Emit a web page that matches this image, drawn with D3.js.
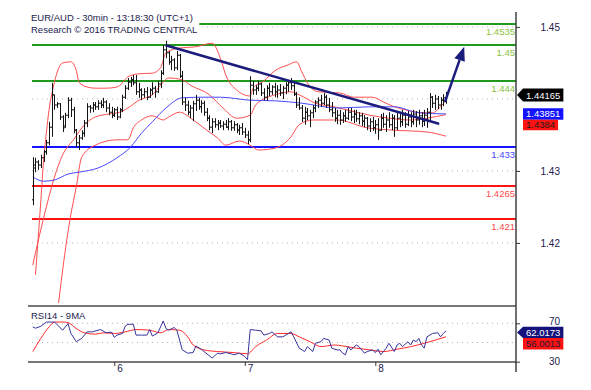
<!DOCTYPE html>
<html>
<head>
<meta charset="utf-8">
<script src="https://cdn.jsdelivr.net/npm/d3@7"></script>
<style>
body { margin: 0; background: #fff; }
svg { display: block; font-family: "Liberation Sans", Arial, sans-serif; }
</style>
</head>
<body>
<script>
// EUR/AUD 30min bars, index 0 = first bar on screen (day 6 opens at bar 30)
var opens = [1.4242,1.4295,1.4305,1.4300,1.4312,1.4322,1.4337,1.4363,1.4417,1.4400,
    1.4402,1.4380,1.4365,1.4383,1.4408,1.4392,1.4358,1.4337,1.4345,1.4353,
    1.4370,1.4397,1.4395,1.4400,1.4397,1.4403,1.4400,1.4405,1.4395,1.4388,
    1.4383,1.4392,1.4380,1.4392,1.4413,1.4428,1.4438,1.4442,1.4437,1.4422,
    1.4425,1.4417,1.4422,1.4413,1.4425,1.4428,1.4422,1.4435,1.4453,1.4492,
    1.4487,1.4472,1.4475,1.4462,1.4483,1.4448,1.4405,1.4400,1.4388,1.4395,
    1.4402,1.4408,1.4397,1.4403,1.4388,1.4378,1.4363,1.4372,1.4367,1.4370,
    1.4365,1.4368,1.4363,1.4372,1.4362,1.4367,1.4358,1.4362,1.4355,1.4350,
    1.4342,1.4433,1.4425,1.4428,1.4435,1.4420,1.4413,1.4428,1.4422,1.4430,
    1.4422,1.4425,1.4420,1.4428,1.4433,1.4437,1.4432,1.4418,1.4400,1.4395,
    1.4378,1.4388,1.4382,1.4387,1.4395,1.4405,1.4408,1.4403,1.4413,1.4400,
    1.4392,1.4387,1.4378,1.4383,1.4375,1.4382,1.4378,1.4388,1.4380,1.4385,
    1.4377,1.4382,1.4373,1.4378,1.4365,1.4372,1.4362,1.4367,1.4358,1.4378,
    1.4368,1.4375,1.4367,1.4378,1.4362,1.4378,1.4372,1.4383,1.4368,1.4380,
    1.4372,1.4385,1.4375,1.4382,1.4373,1.4383,1.4388,1.4413,1.4403,1.4410,
    1.4400,1.4408,1.4412];
var highs = [1.4313,1.4312,1.4308,1.4317,1.4325,1.4342,1.4372,1.4437,1.4417,1.4405,
    1.4403,1.4383,1.4387,1.4413,1.4412,1.4397,1.4360,1.4350,1.4358,1.4375,
    1.4403,1.4400,1.4405,1.4405,1.4408,1.4408,1.4412,1.4408,1.4403,1.4397,
    1.4395,1.4397,1.4395,1.4417,1.4433,1.4445,1.4447,1.4450,1.4450,1.4437,
    1.4428,1.4428,1.4430,1.4428,1.4438,1.4432,1.4440,1.4458,1.4500,1.4507,
    1.4490,1.4482,1.4478,1.4490,1.4485,1.4457,1.4412,1.4407,1.4400,1.4407,
    1.4417,1.4412,1.4408,1.4407,1.4395,1.4383,1.4378,1.4378,1.4375,1.4375,
    1.4373,1.4375,1.4378,1.4375,1.4373,1.4370,1.4367,1.4370,1.4362,1.4357,
    1.4448,1.4440,1.4433,1.4440,1.4437,1.4428,1.4433,1.4437,1.4433,1.4437,
    1.4433,1.4435,1.4432,1.4438,1.4442,1.4445,1.4438,1.4422,1.4413,1.4400,
    1.4397,1.4395,1.4392,1.4400,1.4408,1.4413,1.4417,1.4420,1.4417,1.4412,
    1.4405,1.4395,1.4392,1.4392,1.4388,1.4392,1.4395,1.4395,1.4392,1.4392,
    1.4388,1.4387,1.4383,1.4380,1.4378,1.4380,1.4375,1.4378,1.4385,1.4387,
    1.4383,1.4388,1.4385,1.4383,1.4387,1.4388,1.4392,1.4388,1.4390,1.4388,
    1.4392,1.4390,1.4392,1.4388,1.4392,1.4395,1.4420,1.4415,1.4417,1.4415,
    1.4413,1.4418,1.4422];
var lows = [1.4233,1.4288,1.4292,1.4295,1.4305,1.4317,1.4333,1.4347,1.4392,1.4395,
    1.4375,1.4355,1.4362,1.4378,1.4380,1.4353,1.4330,1.4325,1.4342,1.4347,
    1.4363,1.4387,1.4388,1.4392,1.4392,1.4395,1.4395,1.4388,1.4383,1.4378,
    1.4380,1.4375,1.4378,1.4388,1.4410,1.4425,1.4430,1.4433,1.4417,1.4412,
    1.4408,1.4412,1.4408,1.4412,1.4417,1.4412,1.4420,1.4428,1.4450,1.4478,
    1.4467,1.4458,1.4457,1.4458,1.4445,1.4400,1.4390,1.4383,1.4378,1.4373,
    1.4390,1.4392,1.4387,1.4382,1.4373,1.4358,1.4353,1.4362,1.4358,1.4362,
    1.4358,1.4362,1.4358,1.4357,1.4357,1.4353,1.4350,1.4350,1.4345,1.4335,
    1.4338,1.4417,1.4417,1.4423,1.4415,1.4408,1.4407,1.4415,1.4417,1.4413,
    1.4412,1.4415,1.4410,1.4418,1.4422,1.4425,1.4415,1.4395,1.4392,1.4372,
    1.4367,1.4375,1.4363,1.4378,1.4388,1.4395,1.4397,1.4400,1.4395,1.4388,
    1.4380,1.4372,1.4368,1.4367,1.4370,1.4372,1.4375,1.4373,1.4370,1.4372,
    1.4368,1.4365,1.4363,1.4358,1.4355,1.4357,1.4352,1.4342,1.4357,1.4362,
    1.4355,1.4362,1.4358,1.4347,1.4358,1.4363,1.4365,1.4362,1.4365,1.4363,
    1.4367,1.4363,1.4367,1.4363,1.4365,1.4362,1.4375,1.4395,1.4392,1.4393,
    1.4392,1.4398,1.4402];
var closes = [1.4300,1.4305,1.4300,1.4312,1.4322,1.4337,1.4363,1.4417,1.4400,1.4402,
    1.4380,1.4362,1.4383,1.4408,1.4392,1.4358,1.4337,1.4345,1.4353,1.4370,
    1.4397,1.4395,1.4400,1.4397,1.4403,1.4400,1.4405,1.4395,1.4388,1.4383,
    1.4392,1.4380,1.4392,1.4413,1.4428,1.4438,1.4442,1.4437,1.4422,1.4425,
    1.4417,1.4422,1.4413,1.4425,1.4428,1.4422,1.4435,1.4453,1.4492,1.4487,
    1.4472,1.4475,1.4462,1.4483,1.4448,1.4405,1.4400,1.4388,1.4395,1.4402,
    1.4408,1.4397,1.4403,1.4388,1.4378,1.4363,1.4372,1.4367,1.4370,1.4365,
    1.4368,1.4363,1.4372,1.4362,1.4367,1.4358,1.4362,1.4355,1.4350,1.4342,
    1.4433,1.4425,1.4428,1.4435,1.4420,1.4413,1.4428,1.4422,1.4430,1.4422,
    1.4425,1.4420,1.4428,1.4433,1.4437,1.4432,1.4418,1.4400,1.4395,1.4378,
    1.4388,1.4382,1.4387,1.4395,1.4405,1.4408,1.4403,1.4413,1.4400,1.4392,
    1.4387,1.4378,1.4383,1.4375,1.4382,1.4378,1.4388,1.4380,1.4385,1.4377,
    1.4382,1.4373,1.4378,1.4365,1.4372,1.4362,1.4367,1.4358,1.4378,1.4368,
    1.4375,1.4367,1.4378,1.4362,1.4378,1.4372,1.4383,1.4368,1.4380,1.4372,
    1.4385,1.4375,1.4382,1.4373,1.4383,1.4388,1.4413,1.4403,1.4410,1.4400,
    1.4408,1.4412,1.4417];

// bollinger bands (at these bars)
var upperIdx = [1,2,3,4,5,6,7,8,9,11,14,16,17,20,23,27,31,33,35,39,44,47,49,54,60,66,69,71,75,80,81,85,89,94,97,99,101,105,113,118,125,129,133,137,144,147,150,152];
var upperVal = [1.4117,1.4178,1.4242,1.4308,1.4353,1.4392,1.4418,1.4438,1.4455,1.4470,1.4472,1.4458,1.4438,1.4430,1.4428,1.4428,1.4430,1.4437,1.4447,1.4452,1.4453,1.4462,1.4487,1.4495,1.4497,1.4503,1.4478,1.4450,1.4425,1.4415,1.4428,1.4440,1.4457,1.4467,1.4472,1.4455,1.4437,1.4422,1.4420,1.4413,1.4413,1.4405,1.4397,1.4392,1.4387,1.4387,1.4397,1.4408];
var midIdx = [0,5,8,11,15,19,23,28,32,36,39,44,47,50,55,58,65,70,75,80,82,89,95,98,104,111,119,124,131,139,145,152];
var midVal = [1.4133,1.4230,1.4280,1.4317,1.4342,1.4367,1.4380,1.4385,1.4388,1.4398,1.4408,1.4417,1.4433,1.4445,1.4442,1.4433,1.4417,1.4395,1.4378,1.4383,1.4400,1.4417,1.4422,1.4417,1.4403,1.4397,1.4388,1.4383,1.4378,1.4375,1.4378,1.4384];
var lowerIdx = [9,11,14,16,18,23,31,35,37,40,44,48,50,54,59,64,68,71,76,80,83,89,95,98,103,112,123,133,145,152];
var lowerVal = [1.4050,1.4125,1.4217,1.4263,1.4313,1.4333,1.4342,1.4342,1.4362,1.4375,1.4382,1.4375,1.4380,1.4388,1.4375,1.4358,1.4345,1.4333,1.4340,1.4333,1.4325,1.4328,1.4347,1.4367,1.4375,1.4375,1.4362,1.4358,1.4355,1.4348];

// blue moving average
var maIdx = [0,4,8,13,17,24,31,36,40,44,49,55,63,69,80,89,99,112,124,133,142,152];
var maVal = [1.4280,1.4273,1.4275,1.4285,1.4288,1.4295,1.4312,1.4330,1.4353,1.4372,1.4395,1.4412,1.4413,1.4413,1.4408,1.4407,1.4403,1.4395,1.4397,1.4397,1.4387,1.43851];

// rsi 14 and its 9 period average
var rsiIdx = [0,1,3,5,8,11,13,14,16,18,20,22,24,25,27,29,30,31,33,34,35,37,38,40,42,43,44,46,48,49,50,52,53,54,55,57,59,60,62,63,66,68,69,71,73,74,76,78,79,80,82,84,85,87,88,90,92,95,96,98,100,101,103,104,106,107,109,110,112,113,114,115,116,117,119,120,122,123,125,126,127,128,130,131,133,134,135,136,138,139,140,141,142,143,144,145,147,149,150,151,152];
var rsiVal = [66.2,64.9,66.9,71.3,71.3,62.8,69.7,59.7,50.8,54.3,61.1,61.1,62.8,63.5,60.1,60.8,55.3,57.7,59.4,66.9,69.0,69.0,57.7,57.7,57.7,63.5,56.7,60.1,72.4,64.6,62.8,65.6,62.8,52.6,42.3,38.9,39.5,46.4,43.0,40.6,33.8,38.9,38.2,39.5,38.2,37.2,38.9,35.4,32.1,63.5,62.8,62.1,57.7,59.4,61.1,55.9,55.9,61.1,55.9,44.1,40.6,45.7,40.6,49.2,50.8,54.3,52.6,44.1,42.3,42.3,38.9,37.2,45.7,42.3,47.4,45.7,38.9,40.6,42.3,39.5,43.0,37.2,44.1,49.2,40.6,47.4,49.2,45.7,50.8,47.4,52.6,50.8,54.3,47.4,44.1,55.9,59.4,60.1,55.9,59.4,62.0];
var rsiMaIdx = [0,3,6,8,11,13,16,19,23,26,30,34,38,43,47,50,54,57,59,63,68,74,79,82,86,90,95,98,102,106,111,114,119,124,129,134,139,144,149,152];
var rsiMaVal = [40.6,54.3,66.2,71.3,71.3,70.7,64.6,60.1,58.7,60.1,59.4,61.1,63.5,62.8,60.1,63.5,62.8,55.9,47.4,42.3,40.6,39.5,38.2,45.7,52.6,59.4,59.4,55.9,50.8,45.7,47.4,46.4,44.1,42.3,40.6,43.0,45.7,49.2,53.3,56.0];

// key levels
var levels = [1.4535, 1.45, 1.444, 1.433, 1.4265, 1.421];
var levelKind = ["res", "res", "res", "pivot", "sup", "sup"];

// trend line and projection arrow (bar, price)
var trendIdx = [49.2, 149.1];
var trendVal = [1.4499, 1.4369];
var arrowIdx = [151.6, 158.7];
var arrowVal = [1.4405, 1.4497];

// axis ticks and current values (1.44 and 50 sit under the value tags)
var priceGrid = [1.42, 1.43, 1.44, 1.45];
var priceTicks = [1.42, 1.43, 1.45];
var rsiGrid = [50, 70];
var rsiTicks = [30, 70];
var dayIdx = [30, 78, 126];
var dayLabels = ["6", "7", "8"];
var lastPrice = 1.44165, lastMa = 1.43851, lastMid = 1.4384;
var lastRsi = 62.0173, lastRsiMa = 56.0013;

var title1 = "EUR/AUD - 30min - 13:18:30 (UTC+1)";
var title2 = "Research \u00a9 2016 TRADING CENTRAL";

window.onload = setChart();

function setChart(){

    var width = 591,
        height = 390;

    var plotLeft = 28, lineLeft = 32, plotRight = 516,
        mainTop = 12, mainBottom = 303,
        rsiTop = 306, rsiBottom = 362;

    var levelStyle = {
        res: {line: "#1f9a1f", text: "#8cc43c"},
        pivot: {line: "#1414ff", text: "#4646ff"},
        sup: {line: "#ff1414", text: "#ff4a4a"}
    };

    var svg = d3.select("body")
        .append("svg")
        .attr("width", width)
        .attr("height", height);

    //scales
    var x = d3.scaleLinear().domain([30, 126]).range([114.3, 375.3]);
    var y = d3.scaleLinear().domain([1.421, 1.4535]).range([219, 24]);
    // the printed price labels in the source sit on their own spacing
    var yLabel = d3.scaleLinear().domain([1.42, 1.45]).range([242.9, 26.9]);
    var r = d3.scaleLinear().domain([30, 70]).range([361.7, 323.3]);

    var defs = svg.append("defs");
    defs.append("clipPath").attr("id", "clipMain")
        .append("rect")
        .attr("x", plotLeft).attr("y", mainTop)
        .attr("width", plotRight - plotLeft).attr("height", mainBottom - mainTop);
    defs.append("clipPath").attr("id", "clipRsi")
        .append("rect")
        .attr("x", plotLeft).attr("y", rsiTop)
        .attr("width", plotRight - plotLeft).attr("height", rsiBottom - rsiTop);

    // dotted grid
    svg.append("g")
        .selectAll("line")
        .data(priceGrid)
        .enter()
        .append("line")
        .attr("x1", lineLeft).attr("x2", plotRight)
        .attr("y1", function(d){ return yLabel(d); })
        .attr("y2", function(d){ return yLabel(d); })
        .attr("stroke", "#b4b4b4")
        .attr("stroke-dasharray", "1,4");

    svg.append("g")
        .selectAll("line")
        .data(rsiGrid)
        .enter()
        .append("line")
        .attr("x1", lineLeft).attr("x2", plotRight)
        .attr("y1", function(d){ return r(d); })
        .attr("y2", function(d){ return r(d); })
        .attr("stroke", "#b4b4b4")
        .attr("stroke-dasharray", "1,4");

    var main = svg.append("g").attr("clip-path", "url(#clipMain)");

    // level lines
    main.selectAll(".level")
        .data(levels)
        .enter()
        .append("line")
        .attr("class", "level")
        .attr("x1", lineLeft).attr("x2", plotRight)
        .attr("y1", function(d){ return y(d); })
        .attr("y2", function(d){ return y(d); })
        .attr("stroke", function(d, i){ return levelStyle[levelKind[i]].line; })
        .attr("stroke-width", 2);

    var curve = d3.line()
        .x(function(d){ return x(d[0]); })
        .y(function(d){ return y(d[1]); })
        .curve(d3.curveMonotoneX);

    // bollinger bands
    [[upperIdx, upperVal], [midIdx, midVal], [lowerIdx, lowerVal]].forEach(function(b){
        main.append("path")
            .datum(d3.zip(b[0], b[1]))
            .attr("d", curve)
            .attr("fill", "none")
            .attr("stroke", "#ff4e4e")
            .attr("stroke-width", 1);
    });

    main.append("path")
        .datum(d3.zip(maIdx, maVal))
        .attr("d", curve)
        .attr("fill", "none")
        .attr("stroke", "#4848ff")
        .attr("stroke-width", 1);

    // ohlc bars
    main.append("g")
        .selectAll("path")
        .data(d3.range(closes.length))
        .enter()
        .append("path")
        .attr("d", function(i){
            var bx = Math.round(x(i)) + 0.5;
            return "M" + bx + "," + y(highs[i]) + "V" + y(lows[i]) +
                "M" + (bx - 1.5) + "," + y(opens[i]) + "H" + bx +
                "M" + bx + "," + y(closes[i]) + "H" + (bx + 1.5);
        })
        .attr("fill", "none")
        .attr("stroke", "#141414")
        .attr("stroke-width", 1);

    // trend line
    main.append("line")
        .attr("x1", x(trendIdx[0])).attr("y1", y(trendVal[0]))
        .attr("x2", x(trendIdx[1])).attr("y2", y(trendVal[1]))
        .attr("stroke", "#1c1c7c")
        .attr("stroke-width", 2.6)
        .attr("stroke-linecap", "round");

    // projection arrow
    var ax0 = x(arrowIdx[0]), ay0 = y(arrowVal[0]),
        ax1 = x(arrowIdx[1]), ay1 = y(arrowVal[1]);
    var len = Math.hypot(ax1 - ax0, ay1 - ay0),
        ux = (ax1 - ax0) / len, uy = (ay1 - ay0) / len;
    var bxc = ax1 - ux * 14, byc = ay1 - uy * 14;
    main.append("line")
        .attr("x1", ax0).attr("y1", ay0)
        .attr("x2", bxc).attr("y2", byc)
        .attr("stroke", "#1c1c7c")
        .attr("stroke-width", 2.4);
    main.append("path")
        .attr("d", "M" + ax1 + "," + ay1 +
            "L" + (bxc - uy * 5.5) + "," + (byc + ux * 5.5) +
            "L" + (bxc + uy * 5.5) + "," + (byc - ux * 5.5) + "Z")
        .attr("fill", "#1c1c7c");

    // title with white backing
    var titleG = svg.append("g");
    var tbg = titleG.append("rect").attr("fill", "#fff");
    var t1 = titleG.append("text")
        .attr("x", 31).attr("y", 21)
        .attr("font-size", "9.5px")
        .attr("fill", "#22224e")
        .text(title1);
    var t2 = titleG.append("text")
        .attr("x", 31).attr("y", 33)
        .attr("font-size", "9.5px")
        .attr("fill", "#22224e")
        .text(title2);
    var tw = Math.max(t1.node().getComputedTextLength(), t2.node().getComputedTextLength());
    tbg.attr("x", 29).attr("y", 11).attr("width", tw + 4).attr("height", 25);

    // level labels
    svg.append("g")
        .selectAll("text")
        .data(levels)
        .enter()
        .append("text")
        .attr("x", plotRight - 1)
        .attr("y", function(d){ return y(d) + 10.5; })
        .attr("text-anchor", "end")
        .attr("font-size", "9.5px")
        .attr("fill", function(d, i){ return levelStyle[levelKind[i]].text; })
        .text(function(d){ return d; });

    // rsi panel
    var rsiG = svg.append("g").attr("clip-path", "url(#clipRsi)");
    rsiG.append("path")
        .datum(d3.zip(rsiMaIdx, rsiMaVal))
        .attr("d", d3.line()
            .x(function(d){ return x(d[0]); })
            .y(function(d){ return r(d[1]); })
            .curve(d3.curveMonotoneX))
        .attr("fill", "none")
        .attr("stroke", "#ff2a2a")
        .attr("stroke-width", 1);
    rsiG.append("path")
        .datum(d3.zip(rsiIdx, rsiVal))
        .attr("d", d3.line()
            .x(function(d){ return x(d[0]); })
            .y(function(d){ return r(d[1]); }))
        .attr("fill", "none")
        .attr("stroke", "#34349e")
        .attr("stroke-width", 1);

    svg.append("text")
        .attr("x", 31).attr("y", 318.5)
        .attr("font-size", "9.5px")
        .attr("fill", "#22224e")
        .text("RSI14 - 9MA");

    [rsiTop, rsiBottom].forEach(function(yy){
        svg.append("line")
            .attr("x1", plotLeft).attr("x2", plotRight)
            .attr("y1", yy).attr("y2", yy)
            .attr("stroke", "#4a4a4a")
            .attr("stroke-width", 1.5);
    });

    // axes
    var font = "'Liberation Sans', Arial, sans-serif";
    svg.append("line")
        .attr("x1", plotRight).attr("x2", plotRight)
        .attr("y1", mainTop).attr("y2", 372)
        .attr("stroke", "#333")
        .attr("stroke-width", 1.4);

    var priceAxis = svg.append("g")
        .attr("transform", "translate(" + plotRight + ",0)")
        .call(d3.axisRight(yLabel).tickValues(priceTicks).tickSize(4).tickFormat(d3.format(".2f")));
    var rsiAxis = svg.append("g")
        .attr("transform", "translate(" + plotRight + ",0)")
        .call(d3.axisRight(r).tickValues(rsiTicks).tickSize(4).tickFormat(d3.format("d")));
    var dayAxis = svg.append("g")
        .attr("transform", "translate(0," + rsiBottom + ")")
        .call(d3.axisBottom(x).tickValues(dayIdx).tickSize(4)
            .tickFormat(function(d, i){ return dayLabels[i]; }));

    [priceAxis, rsiAxis, dayAxis].forEach(function(g){
        g.select(".domain").remove();
        g.attr("font-family", font).attr("font-size", "10px");
        g.selectAll(".tick line").attr("stroke", "#333");
        g.selectAll(".tick text").attr("fill", "#22224e");
    });
    priceAxis.selectAll(".tick text").attr("x", 44).attr("text-anchor", "end");
    rsiAxis.selectAll(".tick text").attr("x", 44).attr("text-anchor", "end")
        .attr("dy", function(d){ return d === 70 ? "0.1em" : "0.32em"; });
    dayAxis.selectAll(".tick text").attr("x", 2.5).attr("y", 3).attr("text-anchor", "start");

    // value tags on the right
    function tags(list){
        var prevBottom = -Infinity;
        list.forEach(function(t){
            var cy = Math.max(t.y, prevBottom + t.h / 2);
            var g = svg.append("g");
            var shape = g.append("path");
            var txt = g.append("text")
                .attr("x", 526).attr("y", cy + 3.4)
                .attr("font-size", "9.5px")
                .attr("fill", t.color)
                .text(t.label);
            var w = txt.node().getComputedTextLength() + 6;
            var top = cy - t.h / 2, bot = cy + t.h / 2;
            var d = t.pointer ?
                "M" + (plotRight + 1) + "," + cy + "L523," + top + "H" + (523 + w) + "V" + bot + "H523Z" :
                "M523," + top + "H" + (523 + w) + "V" + bot + "H523Z";
            shape.attr("d", d).attr("fill", t.fill);
            prevBottom = bot;
        });
    }

    tags([
        {y: y(lastPrice), h: 13, label: d3.format(".5f")(lastPrice), fill: "#000", color: "#fff", pointer: true},
        {y: y(lastMa), h: 11.5, label: d3.format(".5f")(lastMa), fill: "#1212ff", color: "#fff"},
        {y: y(lastMid), h: 10.5, label: String(lastMid), fill: "#ff1212", color: "#1a1a1a"}
    ]);
    tags([
        {y: r(lastRsi) + 1.5, h: 11.2, label: d3.format(".4f")(lastRsi), fill: "#12127a", color: "#fff", pointer: true},
        {y: r(lastRsiMa), h: 11.5, label: d3.format(".4f")(lastRsiMa), fill: "#ff1212", color: "#1a1a3a"}
    ]);
};
</script>
</body>
</html>
